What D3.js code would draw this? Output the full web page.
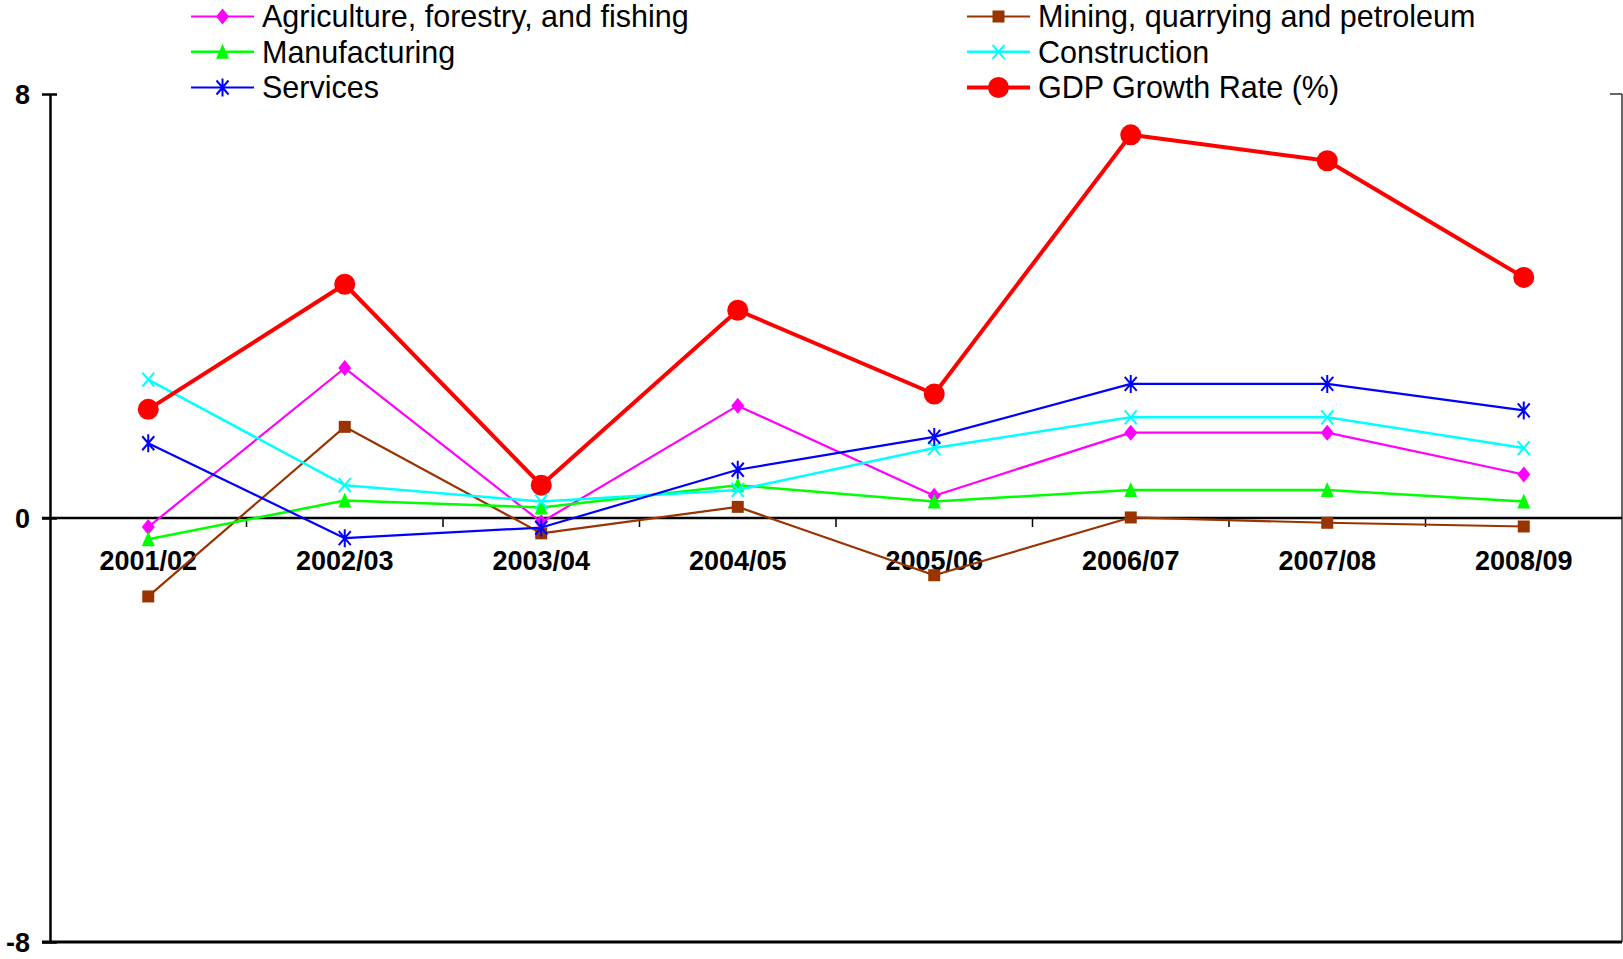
<!DOCTYPE html>
<html>
<head>
<meta charset="utf-8">
<script src="https://cdn.jsdelivr.net/npm/d3@7/dist/d3.min.js"></script>
<style>
html,body{margin:0;padding:0;background:#fff;}
svg{display:block;}
</style>
</head>
<body>
<svg id="chart" width="1623" height="959"></svg>
<script>
const categories = ["2001/02","2002/03","2003/04","2004/05","2005/06","2006/07","2007/08","2008/09"];
const agriculture   = [-0.17, 2.83, -0.08, 2.12, 0.42, 1.61, 1.61, 0.82];
const mining        = [-1.48, 1.72, -0.29, 0.21, -1.08, 0.01, -0.09, -0.16];
const manufacturing = [-0.40, 0.33, 0.20, 0.62, 0.31, 0.53, 0.53, 0.31];
const construction  = [2.61, 0.62, 0.31, 0.53, 1.32, 1.90, 1.90, 1.32];
const services      = [1.41, -0.38, -0.18, 0.91, 1.53, 2.53, 2.53, 2.03];
const gdp           = [2.05, 4.41, 0.62, 3.92, 2.34, 7.23, 6.74, 4.54];
const yTicks = [-8, 0, 8];

const seriesList = [
  {name:"Agriculture, forestry, and fishing", values:agriculture, color:"#ff00ff", width:2.2, marker:"diamond"},
  {name:"Mining, quarrying and petroleum", values:mining, color:"#993300", width:2.2, marker:"square"},
  {name:"Manufacturing", values:manufacturing, color:"#00ff00", width:2.5, marker:"triangle"},
  {name:"Construction", values:construction, color:"#00ffff", width:2.5, marker:"x"},
  {name:"Services", values:services, color:"#0000ff", width:2.2, marker:"star"},
  {name:"GDP Growth Rate (%)", values:gdp, color:"#ff0000", width:4, marker:"circle"}
];

const svg = d3.select("#chart");
const L = 50, R = 1622, T = 94, B = 942;
const x = d3.scalePoint().domain(categories).range([L, R]).padding(0.5);
const y = d3.scaleLinear().domain([-8, 8]).range([B, T]);

function markerPath(type) {
  switch(type) {
    case "diamond": return "M0,-8 L6.5,0 L0,8 L-6.5,0 Z";
    case "square": return "M-6,-6 L6,-6 L6,6 L-6,6 Z";
    case "triangle": return "M0,-8 L6.5,7 L-6.5,7 Z";
    case "x": return "M-6,-7 L6,7 M-6,7 L6,-7";
    case "star": return "M-6,-7 L6,7 M-6,7 L6,-7 M0,-9 L0,9";
    case "circle": return d3.symbol(d3.symbolCircle, Math.PI*10.5*10.5)();
  }
}
function drawMarker(g, s, cx, cy) {
  const filled = ["diamond","square","triangle","circle"].includes(s.marker);
  g.append("path")
    .attr("d", markerPath(s.marker))
    .attr("transform", `translate(${cx},${cy})`)
    .attr("fill", filled ? s.color : "none")
    .attr("stroke", s.color)
    .attr("stroke-width", filled ? 0 : 2);
}

// Right axis line (thin)
svg.append("line").attr("x1", R).attr("x2", R).attr("y1", T).attr("y2", B)
  .attr("stroke", "#333").attr("stroke-width", 1.5);
svg.append("line").attr("x1", R-12).attr("x2", R).attr("y1", T).attr("y2", T)
  .attr("stroke", "#333").attr("stroke-width", 1.5);

// Bottom line at -8
svg.append("line").attr("x1", L-8).attr("x2", R).attr("y1", y(-8)).attr("y2", y(-8))
  .attr("stroke", "#000").attr("stroke-width", 3);

// Zero line with category ticks
svg.append("line").attr("x1", L-8).attr("x2", R).attr("y1", y(0)).attr("y2", y(0))
  .attr("stroke", "#000").attr("stroke-width", 2.5);
const step = x.step();
categories.forEach((c, i) => {
  if (i === 0) return;
  const bx = x(c) - step/2;
  svg.append("line").attr("x1", bx).attr("x2", bx).attr("y1", y(0)).attr("y2", y(0)+9)
    .attr("stroke", "#000").attr("stroke-width", 1.5);
});

// Left axis
const yAxis = d3.axisLeft(y).tickValues(yTicks).tickSizeInner(8).tickSizeOuter(0).tickFormat(d => String(d));
const ga = svg.append("g").attr("transform", `translate(${L},0)`).call(yAxis);
ga.select(".domain").attr("stroke", "#000").attr("stroke-width", 2.5);
ga.selectAll(".tick line").attr("x1", 7).attr("x2", -8).attr("stroke", "#000").attr("stroke-width", 2.5);
ga.selectAll(".tick text").attr("x", -20).attr("dy", "0.35em")
  .style("font-family", "'Liberation Sans', Arial, sans-serif")
  .style("font-weight", "bold").style("font-size", "27px").attr("fill", "#000");

// Category labels
svg.append("g").selectAll("text").data(categories).join("text")
  .attr("x", d => x(d)).attr("y", 570)
  .attr("text-anchor", "middle")
  .style("font-family", "'Liberation Sans', Arial, sans-serif")
  .style("font-weight", "bold").style("font-size", "27px")
  .text(d => d);

// Series
const line = d3.line().x((d, i) => x(categories[i])).y(d => y(d));
seriesList.forEach(s => {
  const g = svg.append("g");
  g.append("path").datum(s.values).attr("d", line)
    .attr("fill", "none").attr("stroke", s.color).attr("stroke-width", s.width)
    .attr("stroke-linejoin", "round");
  s.values.forEach((v, i) => drawMarker(g, s, x(categories[i]), y(v)));
});

// Legend
const legendCols = [191, 967];
const legendRows = [16.5, 51.8, 87.5];
seriesList.forEach((s, i) => {
  const col = i % 2, row = Math.floor(i / 2);
  const lx = legendCols[col], ly = legendRows[row];
  const g = svg.append("g");
  g.append("line").attr("x1", lx).attr("x2", lx + 63).attr("y1", ly).attr("y2", ly)
    .attr("stroke", s.color).attr("stroke-width", s.width);
  drawMarker(g, s, lx + 31.5, ly);
  g.append("text").attr("x", lx + 71).attr("y", ly).attr("dy", "0.36em")
    .style("font-family", "'Liberation Sans', Arial, sans-serif")
    .style("font-size", "30.5px").attr("fill", "#000")
    .text(s.name);
});
</script>
</body>
</html>
